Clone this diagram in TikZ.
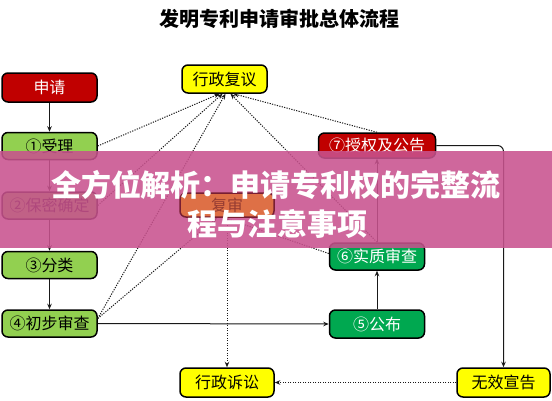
\documentclass[tikz,border=0pt]{standalone}
\usepackage{fontspec}
\setmainfont{Noto Sans CJK SC}
\usetikzlibrary{arrows.meta}
\pgfdeclarelayer{bannerlayer}
\pgfdeclarelayer{toplayer}
\pgfsetlayers{main,bannerlayer,toplayer}
\definecolor{cred}{RGB}{192,0,0}
\definecolor{clg}{RGB}{146,208,80}
\definecolor{cdg}{RGB}{0,168,80}
\definecolor{cyl}{RGB}{255,255,0}
\definecolor{cor}{RGB}{222,112,70}
\definecolor{corb}{RGB}{120,30,50}
\definecolor{cort}{RGB}{150,60,50}
\definecolor{cban}{RGB}{200,82,142}
\definecolor{cline}{RGB}{25,25,25}
\tikzset{
  box/.style={draw=black, line width=1.5pt, rounded corners=6pt, minimum width=95pt,
    minimum height=27pt, inner sep=0pt, font=\fontsize{16}{16}\selectfont},
  redb/.style={box, fill=cred, text=white},
  lgb/.style={box, fill=clg, text=black},
  dgb/.style={box, fill=cdg, text=white},
  ylb/.style={box, fill=cyl, text=black},
  orb/.style={box, fill=cor, draw=corb, text=cort},
  arr/.style={-{Stealth[length=5.5pt,width=4.5pt]}, line width=1pt, draw=cline},
  dotarr/.style={arr, line width=1pt, dash pattern=on 1.2pt off 1.3pt},
  bantext/.style={font=\bfseries\fontsize{30}{30}\selectfont, text=white, inner sep=0pt}
}
\begin{document}
\begin{tikzpicture}[x=1pt,y=-1pt]
\useasboundingbox (0,0) rectangle (552,400);
\node[font=\bfseries\fontsize{20}{20}\selectfont] (title) at (279,19) {发明专利申请审批总体流程};
\node[redb, minimum height=29pt] (sq) at (49.5,87.5) {申请};
\node[lgb] (sl) at (49.5,146) {①受理};
\node[lgb] (bm) at (49.5,205.5) {②保密确定};
\node[lgb] (fl) at (49.5,265) {③分类};
\node[lgb] (cb) at (49.5,323.5) {④初步审查};
\node[ylb, minimum width=85pt, minimum height=28pt] (fy) at (224.5,79) {行政复议};
\node[ylb, minimum width=94pt, minimum height=29pt] (ss) at (227,382.5) {行政诉讼};
\node[ylb, minimum width=93pt, minimum height=29pt] (wx) at (503.5,382.5) {无效宣告};
\node[redb, minimum width=117pt, minimum height=25pt] (sg) at (377,145.5) {⑦授权及公告};
\node[dgb] (sz) at (377,256.5) {⑥实质审查};
\node[dgb, minimum height=28pt] (gb) at (377,324) {⑤公布};
\begin{pgfonlayer}{toplayer}
\node[orb, minimum width=94pt, minimum height=24pt] (fs) at (227,205) {复审};
\end{pgfonlayer}
% solid flow
\draw[arr] (sq) -- (sl);
\draw[arr] (sl) -- (bm);
\draw[arr] (bm) -- (fl);
\draw[arr] (fl) -- (cb);
\draw[arr] (cb.east) -- (gb.west);
\draw[arr] (gb) -- (sz);
\draw[arr] (sz) -- (sg);
\draw[arr, rounded corners=6pt] (sg.east) -| (wx.north);
% dotted
\draw[dotarr] (wx) -- (ss);
\draw[dotarr] (fs) -- (ss);
\draw[dotarr] (sl.east) -- ([xshift=-5pt]fy.south);
\draw[dotarr] (bm.east) -- ([xshift=-2pt]fy.south);
\draw[dotarr] ([yshift=5pt]cb.east) -- ([xshift=1pt]fy.south);
\draw[dotarr] (sz.north) -- ([xshift=6pt]fy.south);
\draw[dotarr] (sg.north) -- ([xshift=9pt]fy.south);
\draw[dotarr] ([yshift=5pt]cb.east) -- ([xshift=-10pt]fs.south);
\draw[dotarr] ([yshift=3pt]sz.west) -- ([xshift=-3pt]fs.south);
% banner
\begin{pgfonlayer}{bannerlayer}
\fill[cban, opacity=0.88] (0,151) rectangle (552,248);
\end{pgfonlayer}
\begin{pgfonlayer}{toplayer}
\node[bantext] (b1) at (276,185) {全方位解析：申请专利权的完整流};
\node[bantext] (b2) at (277,224) {程与注意事项};
\end{pgfonlayer}
\end{tikzpicture}
\end{document}
